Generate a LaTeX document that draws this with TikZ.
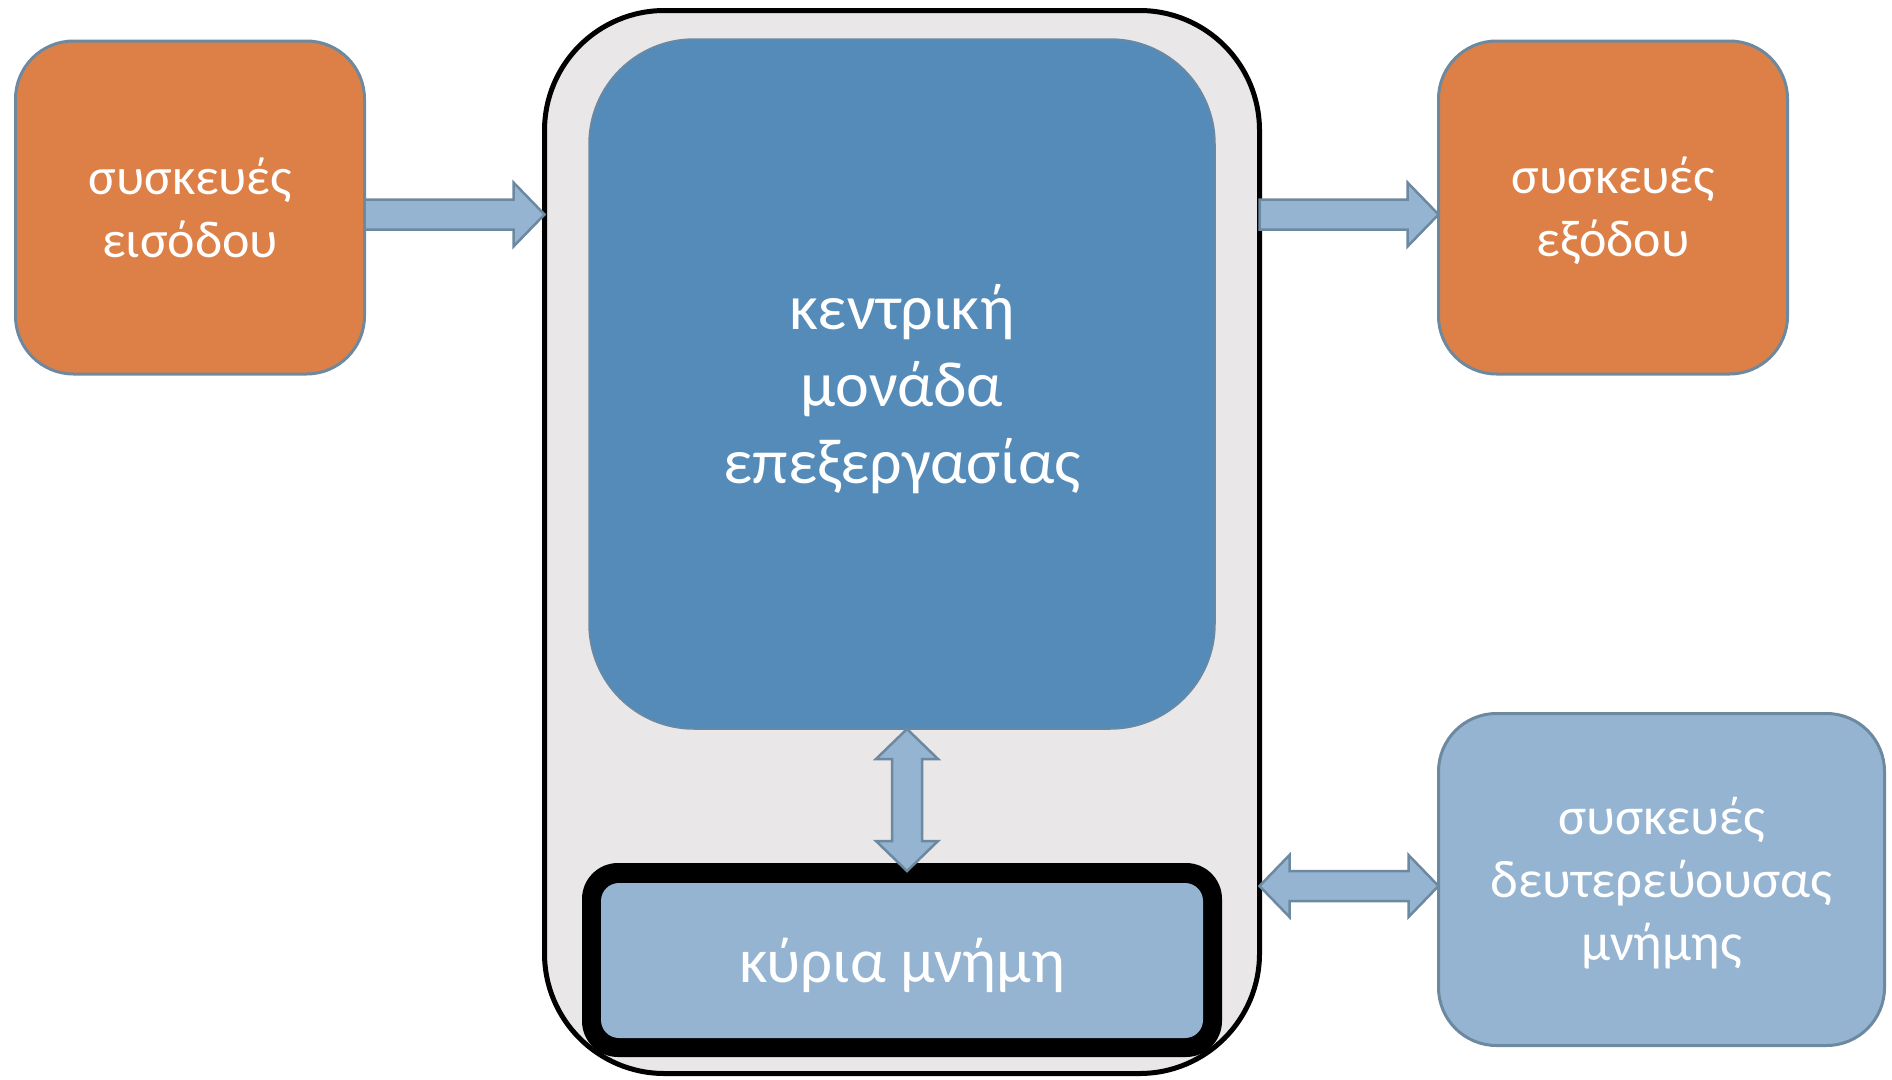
\documentclass[tikz,border=0pt]{standalone}
\usepackage{fontspec}
\setmainfont{Carlito}
\usetikzlibrary{calc}
\definecolor{orng}{RGB}{221,128,71}
\definecolor{cpub}{RGB}{85,139,185}
\definecolor{lblue}{RGB}{149,180,210}
\definecolor{slate}{RGB}{109,137,160}
\definecolor{sysgray}{RGB}{233,231,232}
\begin{document}
\begin{tikzpicture}[x=1pt,y=-1pt,
  base/.style={inner sep=0pt, outer sep=0pt, align=center, text=white},
  devbox/.style={base, draw=slate, line width=3pt, rounded corners=58pt,
     font=\fontsize{52}{63}\selectfont},
  sysbox/.style={base, draw=black, fill=sysgray, line width=5pt, rounded corners=120pt},
  cpubox/.style={base, draw=slate, fill=cpub, line width=1.5pt, rounded corners=105pt,
     font=\fontsize{64}{77}\selectfont},
  memframe/.style={base, fill=black, rounded corners=36pt},
  membox/.style={base, fill=lblue, rounded corners=18pt, font=\fontsize{63}{75}\selectfont},
  barrow/.style={fill=lblue, draw=slate, line width=2.5pt, line join=miter}
]
\useasboundingbox (0,0) rectangle (1892,1079);

\node[sysbox, minimum width=715pt, minimum height=1063pt] (sys) at (902,542) {};
\node[cpubox, minimum width=626pt, minimum height=690pt] (cpu) at (902,384) {};
\node[base, font=\fontsize{64}{77}\selectfont] (cput) at ($(cpu.center)+(0,5)$)
  {κεντρική\\μονάδα\\επεξεργασίας};
\node[memframe, minimum width=640pt, minimum height=194pt] (memf) at (902,960) {};
\node[membox, minimum width=602pt, minimum height=155pt] (mem) at (902,960.5) {};
\node[base, font=\fontsize{63}{75}\selectfont] (memt) at ($(mem.center)+(0,5)$) {κύρια μνήμη};

\node[devbox, fill=orng, minimum width=349pt, minimum height=333pt] (in) at (190,207.5)
  {συσκευές\\εισόδου};
\node[devbox, fill=orng, minimum width=349pt, minimum height=333pt] (out) at (1613,207.5) {};
\node[base, font=\fontsize{52}{63}\selectfont] (outt) at ($(out.center)+(0,3)$) {συσκευές\\εξόδου};
\node[devbox, fill=lblue, minimum width=446pt, minimum height=332pt] (sec) at (1661.5,879.5) {};
\node[base, font=\fontsize{53}{63}\selectfont] (sect) at ($(sec.center)+(0,4)$)
  {συσκευές\\δευτερεύουσας\\μνήμης};

% input arrow
\coordinate (a1s) at ($(in.east)+(0,7)$);
\coordinate (a1e) at (a1s -| sys.west);
\draw[barrow] ($(a1s)+(0,-15)$) -- ($(a1e)+(-31,-15)$) -- ($(a1e)+(-31,-32)$) -- (a1e)
  -- ($(a1e)+(-31,32)$) -- ($(a1e)+(-31,15)$) -- ($(a1s)+(0,15)$) -- cycle;

% output arrow
\coordinate (a2s) at (sys.east |- a1s);
\coordinate (a2e) at (a2s -| out.west);
\draw[barrow] ($(a2s)+(0,-15)$) -- ($(a2e)+(-31,-15)$) -- ($(a2e)+(-31,-32)$) -- (a2e)
  -- ($(a2e)+(-31,32)$) -- ($(a2e)+(-31,15)$) -- ($(a2s)+(0,15)$) -- cycle;

% cpu <-> main memory
\coordinate (v1) at ($(cpu.south)+(5,0)$);
\coordinate (v2) at ($(memf.north)+(5,8)$);
\draw[barrow] (v1) -- ($(v1)+(31,30)$) -- ($(v1)+(15,30)$) -- ($(v2)+(15,-30)$)
  -- ($(v2)+(31,-30)$) -- (v2) -- ($(v2)+(-31,-30)$) -- ($(v2)+(-15,-30)$)
  -- ($(v1)+(-15,30)$) -- ($(v1)+(-31,30)$) -- cycle;

% system <-> secondary storage
\coordinate (h1) at ($(sys.east)+(0,344)$);
\coordinate (h2) at (h1 -| sec.west);
\draw[barrow] (h1) -- ($(h1)+(30,-31)$) -- ($(h1)+(30,-15)$) -- ($(h2)+(-30,-15)$)
  -- ($(h2)+(-30,-31)$) -- (h2) -- ($(h2)+(-30,31)$) -- ($(h2)+(-30,15)$)
  -- ($(h1)+(30,15)$) -- ($(h1)+(30,31)$) -- cycle;
\end{tikzpicture}
\end{document}
